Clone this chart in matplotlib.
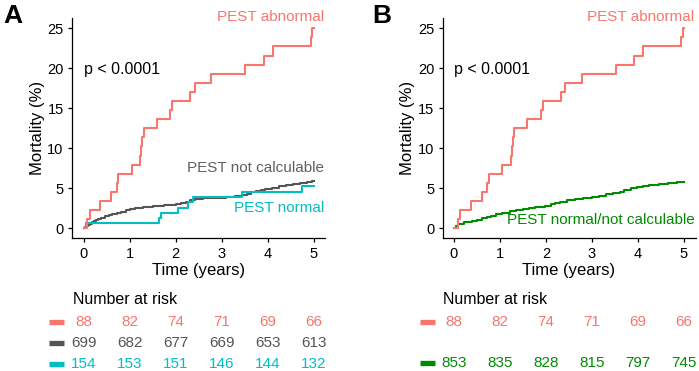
import matplotlib
matplotlib.use("Agg")
import matplotlib.pyplot as plt
from matplotlib.transforms import blended_transform_factory

plt.rcParams['font.family'] = ['Liberation Sans', 'DejaVu Sans']

RED = "#F8766D"
GRAY = "#555555"
CYAN = "#00BFC4"
GREEN = "#008B00"

# step curves (time in years, mortality in %)
abn_t = [0, 0.08, 0.14, 0.36, 0.60, 0.72, 0.76, 1.05, 1.23, 1.26, 1.28, 1.31, 1.59, 1.89, 1.93,
         2.32, 2.42, 2.78, 3.52, 3.92, 4.11, 4.94, 4.97, 5.0]
abn_y = [0, 1.14, 2.27, 3.41, 4.55, 5.68, 6.82, 7.95, 9.09, 10.23, 11.36, 12.5, 13.64, 14.77, 15.91,
         17.05, 18.18, 19.32, 20.45, 21.59, 22.73, 23.86, 25.0, 25.0]

notcalc_t = [0, 0.03, 0.07, 0.10, 0.14, 0.18, 0.22, 0.27, 0.32, 0.38, 0.46, 0.55, 0.63, 0.72, 0.82,
             0.92, 1.02, 1.12, 1.30, 1.50, 1.75, 2.00, 2.12, 2.22, 2.32, 2.42, 2.60, 2.85, 3.10, 3.30,
             3.45, 3.55, 3.65, 3.75, 3.85, 3.95, 4.10, 4.25, 4.40, 4.55, 4.70, 4.85, 4.97, 5.0]
notcalc_y = [0, 0.15, 0.3, 0.45, 0.6, 0.75, 0.9, 1.05, 1.2, 1.35, 1.5, 1.65, 1.8, 1.95, 2.1,
             2.25, 2.4, 2.55, 2.7, 2.85, 2.95, 3.05, 3.2, 3.35, 3.5, 3.65, 3.75, 3.85, 3.95, 4.05,
             4.2, 4.35, 4.5, 4.65, 4.8, 4.95, 5.1, 5.25, 5.4, 5.55, 5.7, 5.8, 5.95, 5.95]

normal_t = [0, 0.05, 1.65, 1.68, 2.06, 2.27, 2.37, 3.44, 4.76, 5.0]
normal_y = [0, 0.65, 1.3, 1.95, 2.6, 3.25, 3.9, 4.55, 5.3, 5.3]

comb_t = [0, 0.05, 0.09, 0.15, 0.22, 0.30, 0.40, 0.49, 0.60, 0.71, 0.80, 0.92, 1.05, 1.21, 1.35,
          1.50, 1.62, 1.75, 1.97, 2.10, 2.20, 2.30, 2.45, 2.62, 2.80, 3.00, 3.15, 3.30, 3.45, 3.60,
          3.70, 3.85, 3.98, 4.10, 4.24, 4.45, 4.65, 4.85, 4.97, 5.0]
comb_y = [0, 0.25, 0.5, 0.6, 0.75, 0.85, 0.95, 1.1, 1.25, 1.45, 1.6, 1.8, 1.95, 2.15, 2.25,
          2.4, 2.5, 2.65, 2.85, 3.0, 3.15, 3.35, 3.5, 3.7, 3.8, 3.95, 4.1, 4.3, 4.45, 4.6,
          4.8, 5.0, 5.15, 5.3, 5.45, 5.55, 5.65, 5.75, 5.85, 5.85]

risk_times = [0, 1, 2, 3, 4, 5]
risk_abn = [88, 82, 74, 71, 69, 66]
risk_notcalc = [699, 682, 677, 669, 653, 613]
risk_normal = [154, 153, 151, 146, 144, 132]
risk_comb = [853, 835, 828, 815, 797, 745]

W, H = 699, 371
fig = plt.figure(figsize=(W / 100, H / 100), dpi=100)


def fy(py):
    return 1 - py / H


def setup(ax):
    ax.set_xlim(-0.25, 5.25)
    ax.set_ylim(-1.25, 26.25)
    ax.set_xticks([0, 1, 2, 3, 4, 5])
    ax.set_yticks([0, 5, 10, 15, 20, 25])
    for s in ["top", "right"]:
        ax.spines[s].set_visible(False)
    for s in ["left", "bottom"]:
        ax.spines[s].set_linewidth(0.9)
    ax.tick_params(length=3, width=0.9, labelsize=10.5, pad=3)
    ax.set_xlabel("Time (years)", fontsize=12, labelpad=2)
    ax.set_ylabel("Mortality (%)", fontsize=12, labelpad=2)
    ax.text(0, 19.8, "p < 0.0001", fontsize=11.5, va="center", ha="left")


def risk_table(ax, rows):
    tr = blended_transform_factory(ax.transData, fig.transFigure)
    ax.text(-0.23, fy(300), "Number at risk", transform=tr, fontsize=11.5,
            va="center", ha="left")
    for counts, color, py in rows:
        ax.plot([-0.75, -0.42], [fy(py), fy(py)], transform=tr, color=color,
                lw=3.8, solid_capstyle="butt", clip_on=False)
        for t, n in zip(risk_times, counts):
            ax.text(t, fy(py), str(n), transform=tr, color=color, fontsize=11,
                    ha="center", va="center")


# panel A
axA = fig.add_axes([72 / W, fy(238.3), 253 / W, 220 / H])
axA.plot(notcalc_t, notcalc_y, drawstyle="steps-post", color=GRAY, lw=1.5)
axA.plot(normal_t, normal_y, drawstyle="steps-post", color=CYAN, lw=1.5)
axA.plot(abn_t, abn_y, drawstyle="steps-post", color=RED, lw=1.5)
setup(axA)
axA.text(5.23, 26.45, "PEST abnormal", color=RED, fontsize=11, ha="right", va="center", clip_on=False)
axA.text(5.23, 7.5, "PEST not calculable", color="#606060", fontsize=11, ha="right", va="center")
axA.text(5.23, 2.6, "PEST normal", color=CYAN, fontsize=11, ha="right", va="center")
risk_table(axA, [(risk_abn, RED, 321.7), (risk_notcalc, GRAY, 343.3), (risk_normal, CYAN, 364)])

# panel B
axB = fig.add_axes([442.5 / W, fy(238.3), 253 / W, 220 / H])
axB.plot(comb_t, comb_y, drawstyle="steps-post", color=GREEN, lw=1.5)
axB.plot(abn_t, abn_y, drawstyle="steps-post", color=RED, lw=1.5)
setup(axB)
axB.text(5.23, 26.45, "PEST abnormal", color=RED, fontsize=11, ha="right", va="center", clip_on=False)
axB.text(5.23, 1.05, "PEST normal/not calculable", color=GREEN, fontsize=11, ha="right", va="center")
risk_table(axB, [(risk_abn, RED, 321.7), (risk_comb, GREEN, 362.7)])

fig.text(3 / W, fy(16), "A", fontsize=19, fontweight="bold", va="center", ha="left")
fig.text(372 / W, fy(16), "B", fontsize=19, fontweight="bold", va="center", ha="left")

fig.savefig("out.png", dpi=100)
